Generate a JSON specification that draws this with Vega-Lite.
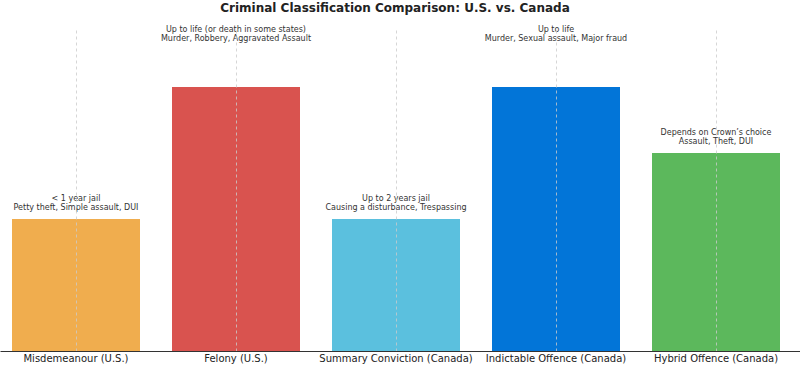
{
  "$schema": "https://vega.github.io/schema/vega-lite/v6.json",
  "width": 800,
  "height": 321,
  "autosize": {"type": "none"},
  "padding": {"left": 0, "top": 30, "right": 0, "bottom": 20},
  "background": "white",
  "title": {
    "text": "Criminal Classification Comparison: U.S. vs. Canada",
    "font": "DejaVu Sans",
    "fontSize": 12,
    "fontWeight": "bold",
    "color": "#222222",
    "anchor": "middle",
    "offset": 11,
    "dx": -5
  },
  "data": {
    "values": [
      {"category": "Misdemeanour (U.S.)", "severity": 2, "label": ["< 1 year jail", "Petty theft, Simple assault, DUI"]},
      {"category": "Felony (U.S.)", "severity": 4, "label": ["Up to life (or death in some states)", "Murder, Robbery, Aggravated Assault"]},
      {"category": "Summary Conviction (Canada)", "severity": 2, "label": ["Up to 2 years jail", "Causing a disturbance, Trespassing"]},
      {"category": "Indictable Offence (Canada)", "severity": 4, "label": ["Up to life", "Murder, Sexual assault, Major fraud"]},
      {"category": "Hybrid Offence (Canada)", "severity": 3, "label": ["Depends on Crown’s choice", "Assault, Theft, DUI"]}
    ]
  },
  "encoding": {
    "x": {
      "field": "category",
      "type": "nominal",
      "sort": null,
      "scale": {"paddingInner": 0.2, "paddingOuter": 0.1, "align": 0.375},
      "axis": {
        "title": null,
        "labelAngle": 0,
        "grid": true,
        "gridDash": [3, 3],
        "gridColor": "#cccccc",
        "gridWidth": 0.8,
        "ticks": false,
        "domainColor": "#333333",
        "domainWidth": 1,
        "labelFont": "DejaVu Sans",
        "labelFontSize": 10,
        "labelColor": "#222222",
        "labelPadding": 2,
        "zindex": 1
      }
    },
    "y": {
      "field": "severity",
      "type": "quantitative",
      "scale": {"domain": [0, 4.864], "nice": false, "zero": true},
      "axis": null
    }
  },
  "layer": [
    {
      "mark": {"type": "bar"},
      "encoding": {
        "color": {
          "field": "category",
          "type": "nominal",
          "scale": {
            "domain": ["Misdemeanour (U.S.)", "Felony (U.S.)", "Summary Conviction (Canada)", "Indictable Offence (Canada)", "Hybrid Offence (Canada)"],
            "range": ["#F0AD4E", "#D9534F", "#5BC0DE", "#0275D8", "#5CB85C"]
          },
          "legend": null
        }
      }
    },
    {
      "transform": [{"filter": "datum.severity < 4"}],
      "mark": {"type": "text", "font": "DejaVu Sans", "fontSize": 8, "color": "#333333", "lineHeight": 9, "baseline": "bottom", "align": "center", "dy": -16},
      "encoding": {"text": {"field": "label"}}
    },
    {
      "transform": [{"filter": "datum.severity >= 4"}],
      "mark": {"type": "text", "font": "DejaVu Sans", "fontSize": 8, "color": "#333333", "lineHeight": 9, "baseline": "bottom", "align": "center", "dy": -53},
      "encoding": {"text": {"field": "label"}}
    }
  ],
  "config": {"view": {"stroke": null}}
}
